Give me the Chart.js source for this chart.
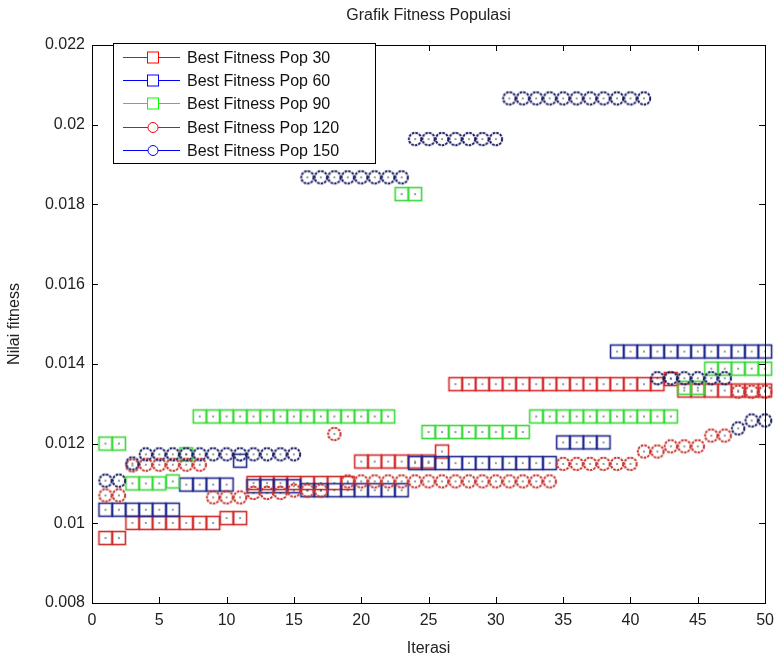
<!DOCTYPE html>
<html>
<head>
<meta charset="utf-8">
<title>Grafik Fitness Populasi</title>
<script src="https://cdn.jsdelivr.net/npm/chart.js@4.4.0/dist/chart.umd.min.js"></script>
<style>
  html, body { margin: 0; padding: 0; background: #fff; }
</style>
</head>
<body>
<canvas id="fitnessChart" width="782" height="659"></canvas>
<script>
// data (iterasi 1..50)
const iterations = [1, 2, 3, 4, 5, 6, 7, 8, 9, 10, 11, 12, 13, 14, 15, 16, 17, 18, 19, 20,
    21, 22, 23, 24, 25, 26, 27, 28, 29, 30, 31, 32, 33, 34, 35, 36, 37, 38, 39, 40,
    41, 42, 43, 44, 45, 46, 47, 48, 49, 50];

const pop30 = [0.00963, 0.00963,
    0.01001, 0.01001, 0.01001, 0.01001, 0.01001, 0.01001, 0.01001,
    0.01013, 0.01013,
    0.01101, 0.01101, 0.01101, 0.01101, 0.01101, 0.01101, 0.01101, 0.01101,
    0.01155, 0.01155, 0.01155, 0.01155, 0.01155, 0.01155,
    0.01180,
    0.01349, 0.01349, 0.01349, 0.01349, 0.01349, 0.01349, 0.01349, 0.01349,
    0.01349, 0.01349, 0.01349, 0.01349, 0.01349, 0.01349, 0.01349, 0.01349,
    0.01362,
    0.01333, 0.01333, 0.01333, 0.01333, 0.01333, 0.01333, 0.01333];

const pop60 = [0.01034, 0.01034, 0.01034, 0.01034, 0.01034, 0.01034,
    0.01097, 0.01097, 0.01097, 0.01097,
    0.01157,
    0.01093, 0.01093, 0.01093, 0.01093,
    0.01083, 0.01083, 0.01083, 0.01083, 0.01083, 0.01083, 0.01083, 0.01083,
    0.01151, 0.01151, 0.01151, 0.01151, 0.01151, 0.01151, 0.01151, 0.01151, 0.01151, 0.01151, 0.01151,
    0.01203, 0.01203, 0.01203, 0.01203,
    0.01431, 0.01431, 0.01431, 0.01431, 0.01431, 0.01431, 0.01431, 0.01431, 0.01431, 0.01431, 0.01431, 0.01431];

const pop90 = [0.01200, 0.01200,
    0.01100, 0.01100, 0.01100,
    0.01105,
    0.01173,
    0.01268, 0.01268, 0.01268, 0.01268, 0.01268, 0.01268, 0.01268, 0.01268,
    0.01268, 0.01268, 0.01268, 0.01268, 0.01268, 0.01268, 0.01268,
    0.01826, 0.01826,
    0.01229, 0.01229, 0.01229, 0.01229, 0.01229, 0.01229, 0.01229, 0.01229,
    0.01268, 0.01268, 0.01268, 0.01268, 0.01268, 0.01268, 0.01268, 0.01268, 0.01268, 0.01268, 0.01268,
    0.01340, 0.01340,
    0.01388, 0.01388, 0.01388, 0.01388, 0.01388];

const pop120 = [0.01070, 0.01070,
    0.01145,
    0.01147, 0.01147, 0.01147, 0.01147, 0.01147,
    0.01065, 0.01065, 0.01065,
    0.01076, 0.01076, 0.01076,
    0.01082, 0.01082, 0.01082,
    0.01224,
    0.01105, 0.01105, 0.01105, 0.01105, 0.01105, 0.01105, 0.01105, 0.01105,
    0.01105, 0.01105, 0.01105, 0.01105, 0.01105, 0.01105, 0.01105, 0.01105,
    0.01149, 0.01149, 0.01149, 0.01149, 0.01149, 0.01149,
    0.01180, 0.01180,
    0.01193, 0.01193, 0.01193,
    0.01220, 0.01220,
    0.01330, 0.01330, 0.01330];

const pop150 = [0.01107, 0.01107,
    0.01150,
    0.01173, 0.01173, 0.01173, 0.01173, 0.01173, 0.01173, 0.01173, 0.01173, 0.01173, 0.01173, 0.01173, 0.01173,
    0.01868, 0.01868, 0.01868, 0.01868, 0.01868, 0.01868, 0.01868, 0.01868,
    0.01964, 0.01964, 0.01964, 0.01964, 0.01964, 0.01964, 0.01964,
    0.02066, 0.02066, 0.02066, 0.02066, 0.02066, 0.02066, 0.02066, 0.02066, 0.02066, 0.02066, 0.02066,
    0.01364, 0.01364, 0.01364, 0.01364, 0.01364, 0.01364,
    0.01238,
    0.01258, 0.01258];

const seriesLabels = ['Best Fitness Pop 30', 'Best Fitness Pop 60', 'Best Fitness Pop 90',
    'Best Fitness Pop 120', 'Best Fitness Pop 150'];
const xTicks = [0, 5, 10, 15, 20, 25, 30, 35, 40, 45, 50];
const yTicks = [0.008, 0.010, 0.012, 0.014, 0.016, 0.018, 0.020, 0.022];
const chartTitle = 'Grafik Fitness Populasi';

const FONT = "'Liberation Sans', Arial, sans-serif";

// marker images, matlab look: outline + small dot in the middle
function makeMarker(shape, color, dashed) {
    const c = document.createElement('canvas');
    c.width = 18; c.height = 18;
    const g = c.getContext('2d');
    g.strokeStyle = color;
    if (shape === 'square') {
        g.lineWidth = 1.6;
        g.strokeRect(2.5, 2.5, 13, 13);
    } else {
        g.lineWidth = 2;
        if (dashed) g.setLineDash([2.6, 1]);
        g.beginPath();
        g.arc(9, 9, 6.2, 0, Math.PI * 2);
        g.stroke();
        g.setLineDash([]);
    }
    g.fillStyle = '#333';
    g.fillRect(8.3, 8.3, 1.4, 1.4);
    return c;
}

const markers = [
    makeMarker('square', '#d02a2a'),
    makeMarker('square', '#1f268c'),
    makeMarker('square', '#3ad83a'),
    makeMarker('circle', '#c8362f', true),
    makeMarker('circle', '#181c62', true)
];
const legendColors = ['#ff0000', '#0000ff', '#00ff00', '#ff0000', '#0000ff'];
const legendShapes = ['square', 'square', 'square', 'circle', 'circle'];
const seriesValues = [pop30, pop60, pop90, pop120, pop150];

function toPoints(values) {
    return iterations.map((it, i) => ({ x: it, y: values[i] }));
}

// inward ticks + box like matlab, title centred over the axes
const matlabAxes = {
    id: 'matlabAxes',
    afterDatasetsDraw(chart) {
        const { ctx, chartArea: a } = chart;
        const x = chart.scales.x, y = chart.scales.y;
        ctx.save();
        ctx.strokeStyle = '#000';
        ctx.lineWidth = 1;
        ctx.beginPath();
        xTicks.forEach(v => {
            const px = Math.round(x.getPixelForValue(v)) + 0.5;
            ctx.moveTo(px, a.bottom); ctx.lineTo(px, a.bottom - 6);
            ctx.moveTo(px, a.top); ctx.lineTo(px, a.top + 6);
        });
        yTicks.forEach(v => {
            const py = Math.round(y.getPixelForValue(v)) + 0.5;
            ctx.moveTo(a.left, py); ctx.lineTo(a.left + 6, py);
            ctx.moveTo(a.right, py); ctx.lineTo(a.right - 6, py);
        });
        ctx.stroke();
        ctx.strokeRect(Math.round(a.left) + 0.5, Math.round(a.top) + 0.5,
            Math.round(a.width), Math.round(a.height));

        ctx.fillStyle = '#222';
        ctx.font = '16px ' + FONT;
        ctx.textAlign = 'center';
        ctx.textBaseline = 'middle';
        ctx.fillText(chartTitle, (a.left + a.right) / 2, 16);
        ctx.restore();
    }
};

// legend with line + marker, drawn in the box top left
const lineLegend = {
    id: 'lineLegend',
    afterDraw(chart) {
        const ctx = chart.ctx;
        const bx = 113, by = 43, bw = 262, bh = 120;
        ctx.save();
        ctx.fillStyle = '#fff';
        ctx.fillRect(bx, by, bw, bh);
        ctx.strokeStyle = '#000';
        ctx.lineWidth = 1;
        ctx.strokeRect(bx + 0.5, by + 0.5, bw, bh);
        ctx.font = '16px ' + FONT;
        ctx.textBaseline = 'middle';
        seriesLabels.forEach((label, i) => {
            const cy = Math.round(by + 14 + i * 23.2) + 0.5;
            ctx.strokeStyle = legendColors[i];
            ctx.beginPath();
            ctx.moveTo(123, cy); ctx.lineTo(180, cy);
            ctx.stroke();
            ctx.fillStyle = '#fff';
            if (legendShapes[i] === 'square') {
                ctx.fillRect(147.5, cy - 5, 11, 11);
                ctx.strokeRect(147.5, cy - 5.5, 11, 11);
            } else {
                ctx.beginPath();
                ctx.arc(153, cy, 5, 0, Math.PI * 2);
                ctx.fill();
                ctx.stroke();
            }
            ctx.fillStyle = '#111';
            ctx.fillText(label, 187, cy + 1);
        });
        ctx.restore();
    }
};

const datasets = seriesValues.map((vals, i) => ({
    label: seriesLabels[i],
    data: toPoints(vals),
    showLine: false,
    pointStyle: markers[i],
    pointRadius: 8,
    pointHoverRadius: 8,
    borderColor: legendColors[i],
    backgroundColor: 'transparent',
    clip: false,
    order: 5 - i
}));

new Chart(document.getElementById('fitnessChart'), {
    type: 'line',
    data: { datasets },
    options: {
        responsive: false,
        animation: false,
        layout: { padding: { left: 0, right: 12, top: 45, bottom: 0 } },
        plugins: {
            legend: { display: false },
            tooltip: { enabled: false },
            title: { display: false }
        },
        scales: {
            x: {
                type: 'linear',
                min: 0,
                max: 50,
                afterBuildTicks: s => { s.ticks = xTicks.map(v => ({ value: v })); },
                afterFit: s => { s.height = 56; },
                grid: { display: false, drawTicks: false },
                border: { display: false },
                ticks: {
                    color: '#222',
                    padding: 8,
                    maxRotation: 0,
                    font: { family: FONT, size: 16 }
                },
                title: {
                    display: true,
                    text: 'Iterasi',
                    color: '#222',
                    font: { family: FONT, size: 16 },
                    padding: { top: 0, bottom: 1 }
                }
            },
            y: {
                type: 'linear',
                min: 0.008,
                max: 0.022,
                afterBuildTicks: s => { s.ticks = yTicks.map(v => ({ value: v })); },
                afterFit: s => { s.width = 92; },
                grid: { display: false, drawTicks: false },
                border: { display: false },
                ticks: {
                    color: '#222',
                    padding: 7,
                    font: { family: FONT, size: 16 },
                    callback: v => String(Number(v.toFixed(3)))
                },
                title: {
                    display: true,
                    text: 'Nilai fitness',
                    color: '#222',
                    font: { family: FONT, size: 16 },
                    padding: { top: 5, bottom: 0 }
                }
            }
        }
    },
    plugins: [matlabAxes, lineLegend]
});
</script>
</body>
</html>
